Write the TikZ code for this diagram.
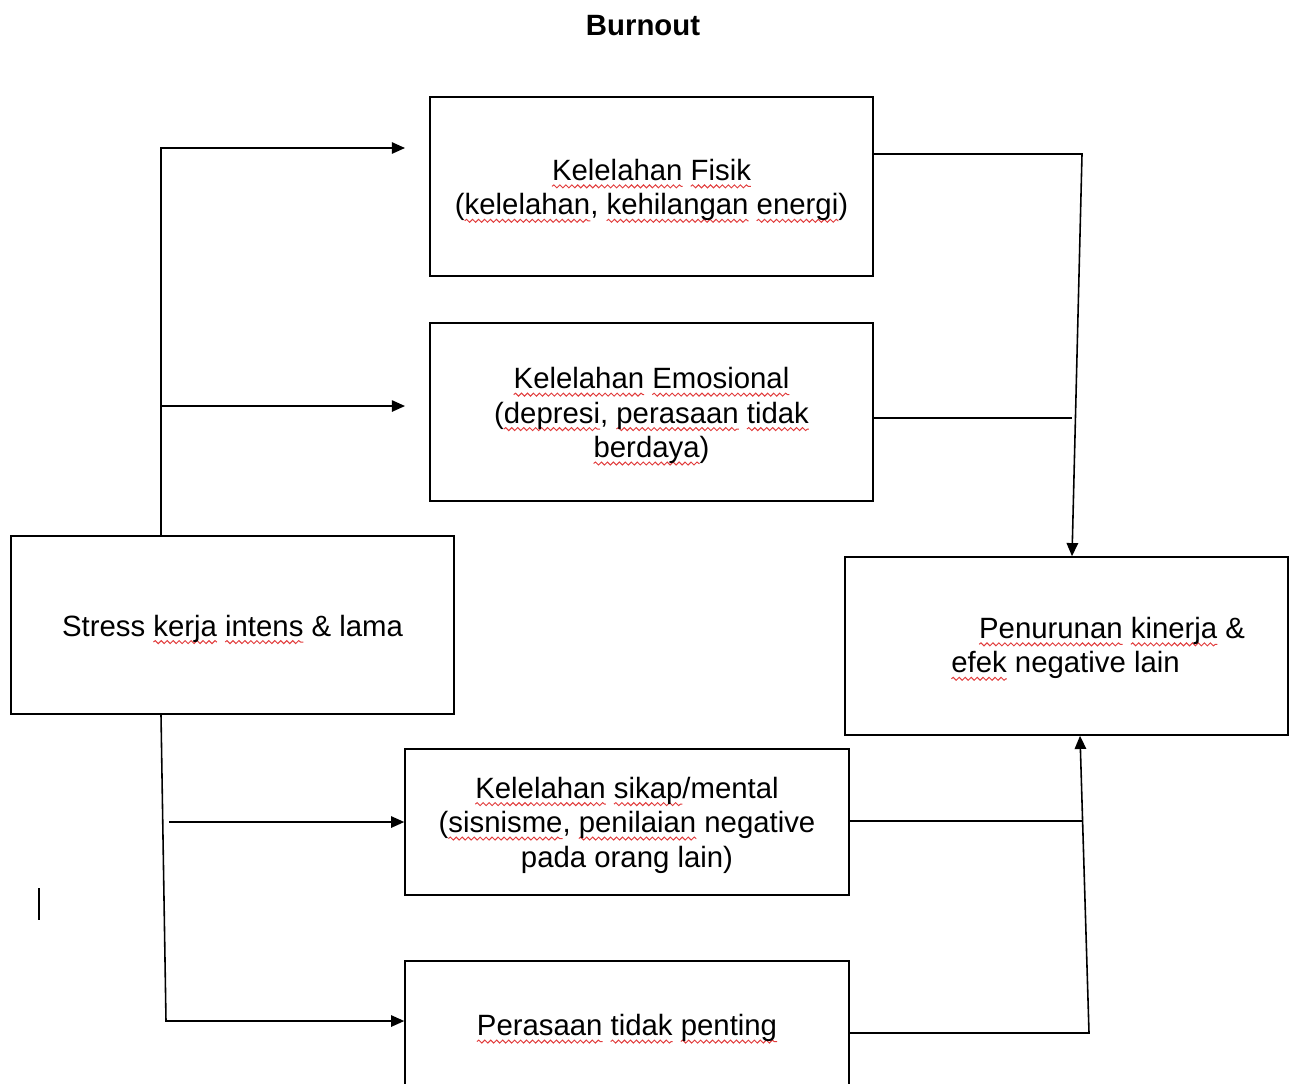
\documentclass[tikz,border=0pt]{standalone}
\usepackage{fontspec}
\setmainfont{Liberation Sans}
\usepackage{xcolor}
\usetikzlibrary{arrows.meta,decorations.pathmorphing}
\definecolor{spell}{RGB}{225,60,60}
\newlength{\sqwidth}
\newcommand{\sq}[1]{\settowidth{\sqwidth}{#1}\rlap{\tikz[overlay,baseline=0pt]\draw[spell, line width=0.55pt, decorate, decoration={snake, amplitude=0.85pt, segment length=3.4pt}] (0pt,-3.4pt) -- (\sqwidth,-3.4pt);}#1}
\tikzset{
  box/.style={draw, line width=0.9pt, inner sep=0pt, minimum width=8.86cm},
  conn/.style={line width=0.9pt},
  arr/.style={line width=0.9pt, -{Triangle[length=7.5pt,width=6.5pt]}},
  txt/.style={inner sep=0pt, align=center, font=\fontsize{16.7}{19.6}\selectfont},
  txtl/.style={inner sep=0pt, align=left, font=\fontsize{16.7}{19.6}\selectfont}
}
\begin{document}
\begin{tikzpicture}[x=0.02cm, y=-0.02cm]
\useasboundingbox (0,0) rectangle (1293,1083);
\clip (0,0) rectangle (1293,1083);

\node[font=\bfseries\fontsize{16.7}{19.6}\selectfont, inner sep=0pt] (title) at (643,26) {Burnout};

% boxes
\node[box, minimum height=3.58cm] (fisik) at (651.5,186.5) {};
\node[box, minimum height=3.56cm] (emo) at (651.5,412) {};
\node[box, minimum height=3.56cm] (stress) at (232.5,625) {};
\node[box, minimum height=3.56cm] (penur) at (1066.5,646) {};
\node[box, minimum width=8.88cm, minimum height=2.92cm] (sikap) at (627,822) {};
\node[box, minimum width=8.88cm, minimum height=2.56cm] (peras) at (627,1025) {};

% texts
\node[txt] (fisikT) at ([yshift=-2pt]fisik.center)
  {\sq{Kelelahan} \sq{Fisik}\\(\sq{kelelahan}, \sq{kehilangan} \sq{energi})};
\node[txt] (emoT) at ([yshift=-2pt]emo.center)
  {\sq{Kelelahan} \sq{Emosional}\\(\sq{depresi}, \sq{perasaan} \sq{tidak}\\\sq{berdaya})};
\node[txt] (stressT) at ([yshift=-2pt]stress.center)
  {Stress \sq{kerja} \sq{intens} \& lama};
\node[txtl, anchor=west] (penurT) at (951,648)
  {\hspace*{15.8pt}\sq{Penurunan} \sq{kinerja} \&\\\sq{efek} negative lain};
\node[txt] (sikapT) at ([yshift=-1.7pt]sikap.center)
  {\sq{Kelelahan} \sq{sikap}/mental\\(\sq{sisnisme}, \sq{penilaian} negative\\pada orang lain)};
\node[txt] (perasT) at ([yshift=-1.7pt]peras.center)
  {\sq{Perasaan} \sq{tidak} \sq{penting}};

% junction coordinates
\coordinate (tr) at (161,148);
\coordinate (a1) at (405,148);
\coordinate (t2) at (161,406);
\coordinate (a2) at (405,406);
\coordinate (b1) at (169,822);
\coordinate (b2) at (166,1021);
\coordinate (r1) at (1082,154);
\coordinate (p1) at (1072,557);
\coordinate (e1) at (1072,418);
\coordinate (r2) at (1082,821);
\coordinate (r3) at (1089,1033);
\coordinate (p2) at (1080,735);
\coordinate (cur1) at (39,888);
\coordinate (cur2) at (39,920);

% left side
\draw[arr] (stress.north -| tr) |- (a1);
\draw[arr] (t2) -- (a2);
\draw[arr] (stress.south -| tr) -- (b2) -- (b2 -| peras.west);
\draw[arr] (b1) -- (b1 -| sikap.west);

% right side
\draw[arr] (fisik.east |- r1) -- (r1) -- (penur.north -| p1);
\draw[conn] (emo.east |- e1) -- (e1);
\draw[conn] (sikap.east |- r2) -- (r2);
\draw[arr] (peras.east |- r3) -- (r3) -- (penur.south -| p2);

% stray cursor mark
\draw[line width=0.8pt] (cur1) -- (cur2);
\end{tikzpicture}
\end{document}
